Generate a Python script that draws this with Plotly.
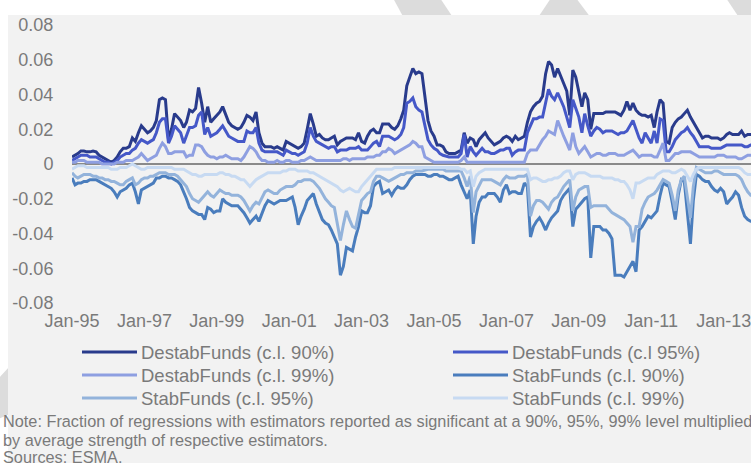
import plotly.graph_objects as go
import pandas as pd

# ---------------- data (monthly, Jan-95 .. Dec-13) ----------------
months = pd.date_range("1995-01-01", periods=228, freq="MS")

destab_90 = [
    0.004, 0.005, 0.006, 0.0075, 0.0075, 0.007, 0.007, 0.0075, 0.007, 0.005, 0.004, 0.003,
    0.002, 0.001, 0.002, 0.004, 0.007, 0.009, 0.009, 0.010, 0.015, 0.013, 0.018, 0.022,
    0.020, 0.018, 0.019, 0.021, 0.025, 0.037, 0.038, 0.037, 0.014, 0.020, 0.029, 0.027,
    0.025, 0.021, 0.024, 0.031, 0.030, 0.032, 0.044, 0.035, 0.024, 0.033, 0.024, 0.026,
    0.028, 0.030, 0.033, 0.028, 0.024, 0.022, 0.021, 0.020, 0.021, 0.024, 0.028, 0.027,
    0.025, 0.030, 0.018, 0.012, 0.010, 0.010, 0.010, 0.009, 0.010, 0.009, 0.008, 0.013,
    0.012, 0.011, 0.010, 0.009, 0.010, 0.012, 0.020, 0.029, 0.023, 0.016, 0.017, 0.015,
    0.014, 0.014, 0.015, 0.016, 0.011, 0.013, 0.014, 0.015, 0.015, 0.015, 0.014, 0.018,
    0.013, 0.012, 0.016, 0.019, 0.020, 0.018, 0.018, 0.023, 0.023, 0.023, 0.021, 0.020,
    0.022, 0.026, 0.031, 0.045, 0.050, 0.055, 0.052, 0.053, 0.052, 0.038, 0.025, 0.019,
    0.016, 0.011, 0.011, 0.010, 0.007, 0.006, 0.006, 0.006, 0.007, 0.008, 0.018, 0.012,
    0.015, 0.014, 0.010, 0.014, 0.016, 0.018, 0.015, 0.013, 0.011, 0.012, 0.013, 0.015,
    0.016, 0.015, 0.013, 0.016, 0.014, 0.015, 0.016, 0.024, 0.030, 0.033, 0.035, 0.036,
    0.039, 0.052, 0.059, 0.057, 0.050, 0.055, 0.051, 0.047, 0.042, 0.028, 0.054, 0.050,
    0.042, 0.033, 0.041, 0.037, 0.020, 0.029, 0.029, 0.029, 0.029, 0.030, 0.030, 0.030,
    0.030, 0.029, 0.028, 0.031, 0.036, 0.031, 0.035, 0.031, 0.029, 0.028, 0.028, 0.027,
    0.028, 0.021, 0.030, 0.037, 0.035, 0.013, 0.012, 0.021, 0.024, 0.026, 0.027, 0.029,
    0.031, 0.027, 0.024, 0.021, 0.018, 0.015, 0.016, 0.016, 0.015, 0.015, 0.015, 0.014,
    0.015, 0.017, 0.018, 0.017, 0.017, 0.017, 0.019, 0.016, 0.017, 0.017, 0.017, 0.017,
]

destab_95 = [
    0.002, 0.003, 0.004, 0.005, 0.005, 0.005, 0.004, 0.004, 0.004, 0.003, 0.002, 0.001,
    0.001, 0.000, 0.001, 0.002, 0.004, 0.005, 0.006, 0.006, 0.008, 0.009, 0.012, 0.014,
    0.013, 0.012, 0.013, 0.014, 0.018, 0.024, 0.026, 0.026, 0.012, 0.016, 0.022, 0.020,
    0.018, 0.012, 0.016, 0.021, 0.021, 0.022, 0.028, 0.030, 0.017, 0.021, 0.016, 0.017,
    0.018, 0.020, 0.022, 0.019, 0.016, 0.015, 0.014, 0.013, 0.013, 0.013, 0.019, 0.018,
    0.018, 0.021, 0.012, 0.008, 0.007, 0.007, 0.007, 0.007, 0.007, 0.006, 0.005, 0.008,
    0.007, 0.006, 0.006, 0.005, 0.006, 0.007, 0.012, 0.021, 0.016, 0.013, 0.012, 0.011,
    0.010, 0.009, 0.010, 0.010, 0.007, 0.008, 0.008, 0.008, 0.009, 0.009, 0.009, 0.010,
    0.008, 0.008, 0.008, 0.010, 0.012, 0.013, 0.010, 0.016, 0.016, 0.016, 0.015, 0.014,
    0.015, 0.017, 0.021, 0.035, 0.036, 0.038, 0.033, 0.031, 0.030, 0.021, 0.014, 0.011,
    0.009, 0.008, 0.006, 0.005, 0.0045, 0.004, 0.004, 0.004, 0.004, 0.006, 0.017, 0.004,
    0.010, 0.007, 0.005, 0.007, 0.009, 0.007, 0.007, 0.006, 0.006, 0.007, 0.008, 0.008,
    0.009, 0.009, 0.005, 0.007, 0.008, 0.008, 0.008, 0.018, 0.022, 0.026, 0.026, 0.027,
    0.027, 0.035, 0.043, 0.039, 0.037, 0.041, 0.037, 0.033, 0.027, 0.021, 0.037, 0.032,
    0.027, 0.018, 0.029, 0.022, 0.016, 0.019, 0.021, 0.020, 0.018, 0.019, 0.019, 0.019,
    0.018, 0.017, 0.018, 0.018, 0.019, 0.022, 0.025, 0.020, 0.015, 0.012, 0.018, 0.015,
    0.012, 0.019, 0.012, 0.026, 0.025, 0.007, 0.007, 0.010, 0.014, 0.016, 0.018, 0.019,
    0.021, 0.018, 0.016, 0.013, 0.010, 0.010, 0.010, 0.010, 0.009, 0.009, 0.009, 0.009,
    0.010, 0.011, 0.011, 0.011, 0.011, 0.011, 0.011, 0.010, 0.010, 0.011, 0.011, 0.011,
]

destab_99 = [
    0.001, 0.001, 0.002, 0.002, 0.002, 0.001, 0.001, 0.001, 0.001, 0.001, 0.000, 0.000,
    0.000, 0.000, 0.000, 0.001, 0.001, 0.001, 0.002, 0.002, 0.002, 0.003, 0.004, 0.006,
    0.004, 0.002, 0.003, 0.004, 0.005, 0.009, 0.012, 0.010, 0.006, 0.006, 0.007, 0.007,
    0.007, 0.007, 0.004, 0.005, 0.005, 0.011, 0.011, 0.010, 0.007, 0.005, 0.004, 0.004,
    0.003, 0.004, 0.004, 0.005, 0.004, 0.003, 0.003, 0.003, 0.002, 0.004, 0.007, 0.010,
    0.009, 0.007, 0.004, 0.002, 0.002, 0.001, 0.001, 0.001, 0.002, 0.001, 0.001, 0.002,
    0.002, 0.001, 0.001, 0.001, 0.002, 0.002, 0.003, 0.004, 0.003, 0.002, 0.002, 0.002,
    0.002, 0.002, 0.002, 0.002, 0.002, 0.002, 0.003, 0.003, 0.002, 0.003, 0.003, 0.003,
    0.003, 0.003, 0.004, 0.004, 0.004, 0.005, 0.005, 0.007, 0.007, 0.009, 0.008, 0.006,
    0.007, 0.008, 0.009, 0.010, 0.011, 0.013, 0.012, 0.010, 0.010, 0.004, 0.003, 0.002,
    0.001, 0.001, 0.001, 0.001, 0.001, 0.001, 0.001, 0.001, 0.001, 0.002, 0.004, 0.001,
    0.001, 0.001, 0.001, 0.001, 0.001, 0.001, 0.001, 0.001, 0.001, 0.001, 0.001, 0.001,
    0.001, 0.001, 0.001, 0.001, 0.001, 0.001, 0.001, 0.006, 0.008, 0.008, 0.008, 0.011,
    0.014, 0.016, 0.019, 0.018, 0.017, 0.025, 0.020, 0.016, 0.012, 0.008, 0.018, 0.010,
    0.006, 0.008, 0.010, 0.007, 0.004, 0.005, 0.006, 0.006, 0.005, 0.005, 0.006, 0.006,
    0.006, 0.005, 0.005, 0.005, 0.006, 0.007, 0.008, 0.006, 0.004, 0.005, 0.005, 0.005,
    0.005, 0.004, 0.004, 0.008, 0.012, 0.002, 0.002, 0.004, 0.006, 0.006, 0.007, 0.007,
    0.007, 0.007, 0.006, 0.005, 0.004, 0.004, 0.004, 0.004, 0.004, 0.004, 0.005, 0.005,
    0.005, 0.004, 0.004, 0.004, 0.004, 0.003, 0.003, 0.004, 0.005, 0.005, 0.005, 0.005,
]

stab_90 = [
    -0.008, -0.012, -0.011, -0.011, -0.010, -0.010, -0.009, -0.009, -0.009, -0.010, -0.011, -0.012,
    -0.013, -0.014, -0.016, -0.019, -0.016, -0.015, -0.014, -0.012, -0.011, -0.016, -0.023, -0.015,
    -0.014, -0.013, -0.012, -0.011, -0.008, -0.008, -0.007, -0.007, -0.008, -0.008, -0.009, -0.010,
    -0.012, -0.016, -0.020, -0.025, -0.027, -0.028, -0.029, -0.029, -0.032, -0.025, -0.026, -0.028,
    -0.027, -0.027, -0.020, -0.022, -0.023, -0.024, -0.024, -0.024, -0.026, -0.028, -0.031, -0.034,
    -0.032, -0.030, -0.033, -0.028, -0.024, -0.021, -0.022, -0.023, -0.022, -0.021, -0.021, -0.021,
    -0.020, -0.019, -0.025, -0.035, -0.030, -0.026, -0.021, -0.019, -0.017, -0.023, -0.028, -0.032,
    -0.034, -0.035, -0.038, -0.042, -0.046, -0.064, -0.059, -0.048, -0.049, -0.050, -0.042, -0.036,
    -0.027, -0.028, -0.028, -0.024, -0.013, -0.011, -0.010, -0.017, -0.016, -0.015, -0.018, -0.015,
    -0.013, -0.014, -0.014, -0.012, -0.009, -0.007, -0.006, -0.006, -0.006, -0.006, -0.007, -0.007,
    -0.006, -0.006, -0.007, -0.007, -0.008, -0.009, -0.009, -0.008, -0.007, -0.012, -0.016, -0.020,
    -0.015, -0.046, -0.030, -0.022, -0.019, -0.019, -0.017, -0.017, -0.017, -0.019, -0.022, -0.015,
    -0.012, -0.017, -0.016, -0.016, -0.017, -0.017, -0.011, -0.013, -0.042, -0.036, -0.033, -0.031,
    -0.034, -0.038, -0.034, -0.031, -0.029, -0.027, -0.021, -0.018, -0.016, -0.014, -0.036, -0.026,
    -0.024, -0.022, -0.020, -0.019, -0.054, -0.036, -0.036, -0.036, -0.038, -0.038, -0.040, -0.043,
    -0.064, -0.064, -0.064, -0.065, -0.062, -0.059, -0.056, -0.062, -0.038, -0.036, -0.033, -0.030,
    -0.031, -0.029, -0.027, -0.018, -0.011, -0.012, -0.013, -0.022, -0.032, -0.018, -0.009, -0.010,
    -0.030, -0.046, -0.021, -0.006, -0.007, -0.009, -0.010, -0.010, -0.013, -0.015, -0.016, -0.014,
    -0.016, -0.023, -0.021, -0.019, -0.016, -0.018, -0.025, -0.030, -0.032, -0.033, -0.033, -0.033,
]

stab_95 = [
    -0.005, -0.007, -0.008, -0.007, -0.006, -0.006, -0.006, -0.007, -0.007, -0.008, -0.008, -0.009,
    -0.009, -0.010, -0.010, -0.011, -0.012, -0.012, -0.010, -0.009, -0.008, -0.012, -0.011, -0.009,
    -0.008, -0.008, -0.007, -0.007, -0.006, -0.005, -0.005, -0.005, -0.006, -0.006, -0.006, -0.007,
    -0.009, -0.011, -0.013, -0.017, -0.020, -0.021, -0.022, -0.020, -0.018, -0.016, -0.018, -0.019,
    -0.017, -0.015, -0.016, -0.017, -0.017, -0.018, -0.018, -0.018, -0.019, -0.021, -0.024, -0.027,
    -0.024, -0.022, -0.023, -0.019, -0.016, -0.015, -0.016, -0.017, -0.017, -0.015, -0.014, -0.013,
    -0.013, -0.013, -0.012, -0.010, -0.010, -0.009, -0.009, -0.009, -0.010, -0.012, -0.014, -0.017,
    -0.020, -0.022, -0.024, -0.025, -0.034, -0.044, -0.035, -0.027, -0.032, -0.036, -0.037, -0.029,
    -0.021, -0.019, -0.017, -0.016, -0.010, -0.007, -0.007, -0.008, -0.009, -0.010, -0.009, -0.008,
    -0.007, -0.006, -0.006, -0.005, -0.005, -0.005, -0.004, -0.004, -0.004, -0.0035, -0.003, -0.003,
    -0.003, -0.003, -0.003, -0.003, -0.004, -0.004, -0.004, -0.004, -0.004, -0.004, -0.008, -0.013,
    -0.007, -0.028, -0.016, -0.012, -0.009, -0.009, -0.009, -0.009, -0.010, -0.011, -0.012, -0.009,
    -0.007, -0.008, -0.008, -0.008, -0.007, -0.007, -0.007, -0.006, -0.030, -0.024, -0.021, -0.021,
    -0.022, -0.024, -0.026, -0.022, -0.020, -0.019, -0.016, -0.013, -0.011, -0.009, -0.027, -0.019,
    -0.015, -0.014, -0.013, -0.013, -0.025, -0.024, -0.024, -0.024, -0.024, -0.024, -0.026, -0.028,
    -0.029, -0.030, -0.031, -0.032, -0.034, -0.036, -0.045, -0.036, -0.036, -0.026, -0.022, -0.019,
    -0.018, -0.017, -0.015, -0.012, -0.009, -0.010, -0.011, -0.018, -0.027, -0.015, -0.009, -0.007,
    -0.020, -0.031, -0.013, -0.002, -0.003, -0.004, -0.005, -0.005, -0.005, -0.004, -0.004, -0.005,
    -0.006, -0.006, -0.006, -0.006, -0.006, -0.007, -0.009, -0.013, -0.016, -0.018, -0.018, -0.018,
]

stab_99 = [
    -0.003, -0.002, -0.001, -0.001, -0.001, -0.002, -0.002, -0.002, -0.002, -0.002, -0.002, -0.002,
    -0.002, -0.003, -0.003, -0.003, -0.002, -0.002, -0.002, -0.001, 0.000, -0.001, -0.002, -0.003,
    -0.003, -0.002, -0.002, -0.002, -0.002, -0.002, -0.002, -0.002, -0.002, -0.002, -0.003, -0.003,
    -0.003, -0.003, -0.004, -0.005, -0.006, -0.006, -0.007, -0.007, -0.006, -0.006, -0.006, -0.006,
    -0.006, -0.005, -0.005, -0.006, -0.006, -0.007, -0.007, -0.008, -0.009, -0.009, -0.011, -0.013,
    -0.011, -0.009, -0.008, -0.007, -0.006, -0.005, -0.005, -0.005, -0.005, -0.005, -0.004, -0.004,
    -0.003, -0.003, -0.003, -0.004, -0.004, -0.004, -0.004, -0.005, -0.005, -0.006, -0.007, -0.008,
    -0.009, -0.010, -0.011, -0.012, -0.013, -0.015, -0.016, -0.015, -0.014, -0.015, -0.016, -0.016,
    -0.013, -0.011, -0.009, -0.007, -0.005, -0.003, -0.003, -0.003, -0.003, -0.003, -0.003, -0.002,
    -0.002, -0.002, -0.002, -0.002, -0.002, -0.002, -0.002, -0.002, -0.002, -0.002, -0.002, -0.002,
    -0.002, -0.002, -0.002, -0.002, -0.002, -0.002, -0.002, -0.002, -0.002, -0.003, -0.003, -0.005,
    -0.004, -0.013, -0.007, -0.005, -0.004, -0.003, -0.003, -0.003, -0.003, -0.003, -0.003, -0.003,
    -0.003, -0.003, -0.003, -0.003, -0.003, -0.003, -0.003, -0.003, -0.009, -0.008, -0.008, -0.009,
    -0.010, -0.010, -0.009, -0.009, -0.008, -0.008, -0.007, -0.005, -0.004, -0.004, -0.009, -0.006,
    -0.005, -0.005, -0.005, -0.006, -0.007, -0.007, -0.007, -0.007, -0.008, -0.008, -0.008, -0.008,
    -0.009, -0.009, -0.010, -0.010, -0.012, -0.015, -0.020, -0.011, -0.011, -0.010, -0.009, -0.008,
    -0.008, -0.008, -0.006, -0.005, -0.004, -0.004, -0.004, -0.005, -0.005, -0.004, -0.003, -0.004,
    -0.007, -0.010, -0.006, -0.003, -0.002, -0.002, -0.002, -0.002, -0.002, -0.002, -0.002, -0.002,
    -0.002, -0.002, -0.002, -0.002, -0.002, -0.002, -0.003, -0.005, -0.006, -0.006, -0.006, -0.006,
]

series_names = [
    "DestabFunds (c.l. 90%)", "DestabFunds (c.l 95%)", "DestabFunds (c.l. 99%)",
    "StabFunds (c.l. 90%)", "StabFunds (c.l. 95%)", "StabFunds (c.l. 99%)",
]
series_values = [destab_90, destab_95, destab_99, stab_90, stab_95, stab_99]
series_colors = ["#293B8C", "#4558C8", "#8E9FE1", "#4A7DBD", "#93B3DB", "#C7DAF2"]

y_tick_values = [-0.08, -0.06, -0.04, -0.02, 0, 0.02, 0.04, 0.06, 0.08]
y_tick_labels = ["-0.08", "-0.06", "-0.04", "-0.02", "0", "0.02", "0.04", "0.06", "0.08"]

note_lines = [
    "Note: Fraction of regressions with estimators reported as significant at a 90%, 95%, 99% level multiplied",
    "by average strength of respective estimators.",
    "Sources: ESMA.",
]

for s in series_values:
    assert len(s) == len(months), len(s)

# ---------------- layout helpers (pixel -> paper) ----------------
W, H = 751, 463
L, R, T, B = 72, 751, 25, 303
def px(x):
    return (x - L) / (R - L)
def py(y):
    return (B - y) / (B - T)

FONT = "Liberation Sans, Arial, sans-serif"
TXT = "#7A7A7A"

fig = go.Figure()
for name, vals, col in zip(series_names, series_values, series_colors):
    fig.add_trace(go.Scatter(
        x=months, y=vals, mode="lines", name=name,
        line=dict(color=col, width=3), showlegend=False,
    ))

shapes = []
stripe = "#DCDCDC"
def poly(pts, color, layer="below"):
    d = "M" + " L".join(f"{px(a):.5f},{py(b):.5f}" for a, b in pts) + " Z"
    return dict(type="path", path=d, xref="paper", yref="paper",
                fillcolor=color, line=dict(width=0), layer=layer)

# decorative background stripes (page design)
shapes.append(poly([(393, -2), (440, -2), (456, 22), (406, 22)], stripe))
shapes.append(poly([(551, -2), (576, -2), (594, 22), (535, 22)], stripe))
shapes.append(poly([(726, -2), (760, -2), (760, 22), (742, 22)], stripe))
shapes.append(poly([(-2, 379), (10, 366), (10, 414), (-2, 419)], stripe))
# grey panel
shapes.append(dict(type="rect", xref="paper", yref="paper",
                   x0=px(8), x1=px(760), y0=py(470), y1=py(15),
                   fillcolor="#F2F2F2", line=dict(width=0), layer="below"))

annotations = []
# manual legend (2 columns, row-major)
leg_rows = [352, 375, 398]
leg_cols = [82, 453]
for i, (name, col) in enumerate(zip(series_names, series_colors)):
    r, c = divmod(i, 2)
    yy = leg_rows[r]
    x0 = leg_cols[c]
    shapes.append(dict(type="line", xref="paper", yref="paper",
                       x0=px(x0), x1=px(x0 + 55), y0=py(yy), y1=py(yy),
                       line=dict(color=col, width=3), layer="above"))
    annotations.append(dict(text=name, x=px(x0 + 57), y=py(yy), xref="paper", yref="paper",
                            xanchor="left", yanchor="middle", showarrow=False,
                            font=dict(family=FONT, size=18.5, color=TXT)))

note_y = [421, 440, 457.5]
for line, yy in zip(note_lines, note_y):
    annotations.append(dict(text=line, x=px(1), y=py(yy), xref="paper", yref="paper",
                            xanchor="left", yanchor="middle", showarrow=False,
                            font=dict(family=FONT, size=16.3, color=TXT)))

fig.update_layout(
    width=W, height=H, autosize=False,
    margin=dict(l=L, r=W - R, t=T, b=H - B, pad=0),
    paper_bgcolor="white", plot_bgcolor="rgba(0,0,0,0)",
    font=dict(family=FONT, color=TXT, size=18),
    showlegend=False,
    shapes=shapes, annotations=annotations,
    xaxis=dict(
        type="date", range=["1995-01-01", "2013-10-04"],
        tick0="1995-01-01", dtick="M24", tickformat="%b-%y",
        showgrid=False, zeroline=False, showline=False,
        ticks="outside", ticklen=1, tickcolor="rgba(0,0,0,0)",
        ticklabeloverflow="allow",
        tickfont=dict(family=FONT, size=18, color=TXT),
    ),
    yaxis=dict(
        range=[-0.08, 0.08], tickvals=y_tick_values, ticktext=y_tick_labels,
        showgrid=False, zeroline=True, zerolinecolor="#8A8A8A", zerolinewidth=2,
        showline=False, ticks="outside", ticklen=14, tickcolor="rgba(0,0,0,0)",
        tickfont=dict(family=FONT, size=18, color=TXT),
    ),
)

fig.write_html(
    "out.html",
    config={"displayModeBar": False},
    post_script="document.body.style.margin='0';document.body.style.overflow='hidden';",
)
